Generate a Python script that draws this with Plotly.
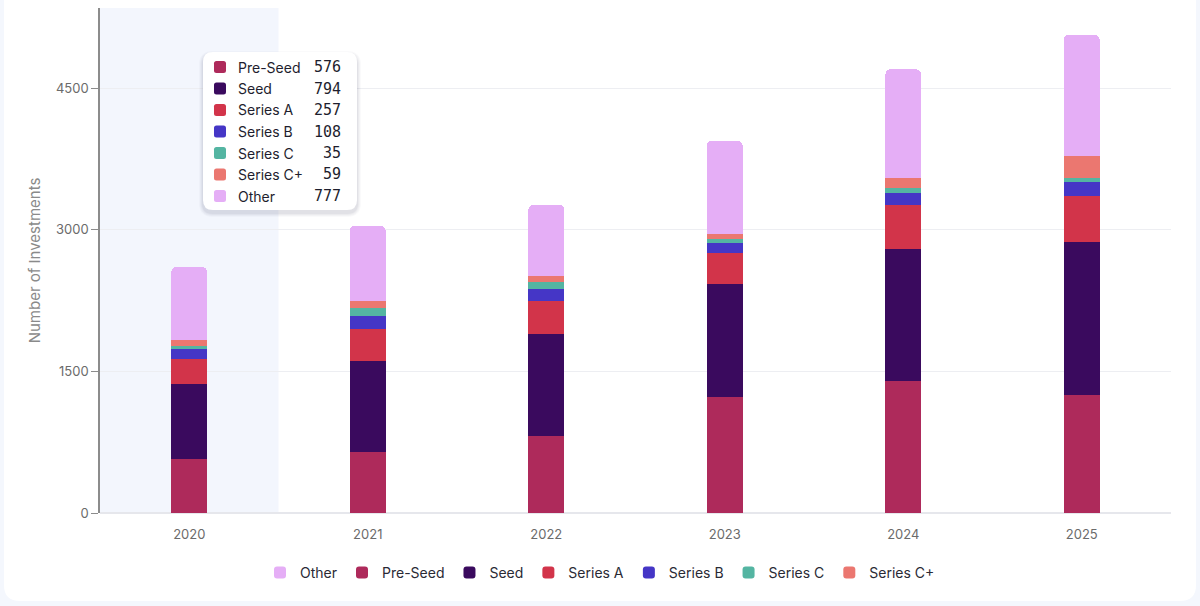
import plotly.graph_objects as go

# values (2020 from the tooltip, the rest estimated)
years = ['2020', '2021', '2022', '2023', '2024', '2025']
pre_seed = [576, 643, 815, 1225, 1394, 1253]
seed = [794, 963, 1077, 1200, 1404, 1614]
series_a = [257, 345, 349, 328, 463, 487]
series_b = [108, 134, 133, 103, 127, 151]
series_c = [35, 88, 68, 42, 56, 42]
series_c_plus = [59, 71, 67, 59, 103, 230]
other = [777, 797, 755, 985, 1151, 1288]

stages = ['Pre-Seed', 'Seed', 'Series A', 'Series B', 'Series C', 'Series C+', 'Other']
colors = ['#AE2A5B', '#3A0A5E', '#D2344A', '#4536C6', '#54B5A2', '#EB7770', '#E5AEF6']
legend_rank = [2, 3, 4, 5, 6, 7, 1]
series = [pre_seed, seed, series_a, series_b, series_c, series_c_plus, other]

FONT = 'Inter'

# plot area in pixels (1200x606 page)
L, R, T, B = 100, 1171, 8, 513
W, H = R - L, B - T


def px(x):
    return (x - L) / W


def py(y):
    return (B - y) / H


def rrect(x0, y0, x1, y1, r):
    # rounded rectangle path in paper units, corners given in pixels
    pts = [
        ('M', [(x0 + r, y0)]), ('L', [(x1 - r, y0)]), ('Q', [(x1, y0), (x1, y0 + r)]),
        ('L', [(x1, y1 - r)]), ('Q', [(x1, y1), (x1 - r, y1)]), ('L', [(x0 + r, y1)]),
        ('Q', [(x0, y1), (x0, y1 - r)]), ('L', [(x0, y0 + r)]), ('Q', [(x0, y0), (x0 + r, y0)]),
    ]
    out = ''
    for cmd, ps in pts:
        out += cmd + ' '.join(f'{px(a):.5f},{py(b):.5f}' for a, b in ps) + ' '
    return out + 'Z'


fig = go.Figure()
for name, vals, col, rank in zip(stages, series, colors, legend_rank):
    fig.add_trace(go.Bar(
        x=years, y=vals, name=name, legendrank=rank,
        marker=dict(color=col, line=dict(width=0)),
        width=0.2,
        hovertemplate=name + ': %{y}<extra></extra>'
    ))

shapes = [
    # white card behind everything
    dict(type='path', xref='paper', yref='paper', layer='below',
         path=rrect(4, -30, 1196, 601, 16), fillcolor='white', line=dict(width=0)),
    # highlighted year column
    dict(type='rect', xref='x', yref='paper', x0=-0.5, x1=0.5, y0=0, y1=1,
         layer='between', fillcolor='#F3F6FD', line=dict(width=0)),
]

# tooltip box for 2020 with a soft shadow
tx0, ty0, tx1, ty1 = 203, 52, 357, 210
for i, a in enumerate([0.025, 0.03, 0.035, 0.045]):
    g = 4 - i
    shapes.append(dict(type='path', xref='paper', yref='paper',
                       path=rrect(tx0 - g, ty0 - g + 3, tx1 + g, ty1 + g + 3, 10 + g),
                       fillcolor=f'rgba(30,30,70,{a})', line=dict(width=0)))
shapes.append(dict(type='path', xref='paper', yref='paper',
                   path=rrect(tx0, ty0, tx1, ty1, 10), fillcolor='white', line=dict(width=0)))

annotations = []
row0, step = 67, 21.5
for i, (name, vals, col) in enumerate(zip(stages, series, colors)):
    yc = row0 + i * step
    shapes.append(dict(type='path', xref='paper', yref='paper',
                       path=rrect(214, yc - 6, 226, yc + 6, 2.5), fillcolor=col, line=dict(width=0)))
    annotations.append(dict(xref='paper', yref='paper', x=px(236), y=py(yc), text=name,
                            showarrow=False, xanchor='left', yanchor='middle',
                            font=dict(family=FONT, size=14, color='#1E1E2E')))
    annotations.append(dict(xref='paper', yref='paper', x=px(343), y=py(yc), text=str(vals[0]),
                            showarrow=False, xanchor='right', yanchor='middle',
                            font=dict(family='DejaVu Sans Mono', size=15, color='#1E1E2E')))

fig.update_layout(
    width=1200, height=606,
    margin=dict(l=L, r=1200 - R, t=T, b=606 - B),
    barmode='stack',
    barcornerradius=5,
    paper_bgcolor='#F4F7FD',
    plot_bgcolor='rgba(0,0,0,0)',
    font=dict(family=FONT, size=13, color='#6B6B6B'),
    shapes=shapes,
    annotations=annotations,
    legend=dict(orientation='h', traceorder='normal', x=px(600), xanchor='center',
                y=py(573), yanchor='middle',
                font=dict(family=FONT, size=14, color='#2A2A35'), itemwidth=30,
                bgcolor='rgba(0,0,0,0)'),
    xaxis=dict(showgrid=False, showline=False, ticks='', tickfont=dict(size=13, color='#6B6B6B'),
               ticklabelstandoff=12),
    yaxis=dict(range=[0, 5347], tickvals=[0, 1500, 3000, 4500], showgrid=True,
               gridcolor='#EDEEF2', gridwidth=1, zeroline=True, zerolinecolor='#E6E7EC',
               showline=True, linecolor='#8C8C8C', linewidth=1.5, ticks='outside',
               ticklen=7, tickcolor='#8C8C8C', tickwidth=1,
               tickfont=dict(size=13, color='#6B6B6B'),
               title=dict(text='Number of Investments', standoff=12,
                          font=dict(size=15, color='#8A8A8A'))),
)

# drop the default page margin so the figure sits at the window origin
fig.write_html('out.html', config={'displayModeBar': False},
               post_script="document.body.style.margin='0';")
